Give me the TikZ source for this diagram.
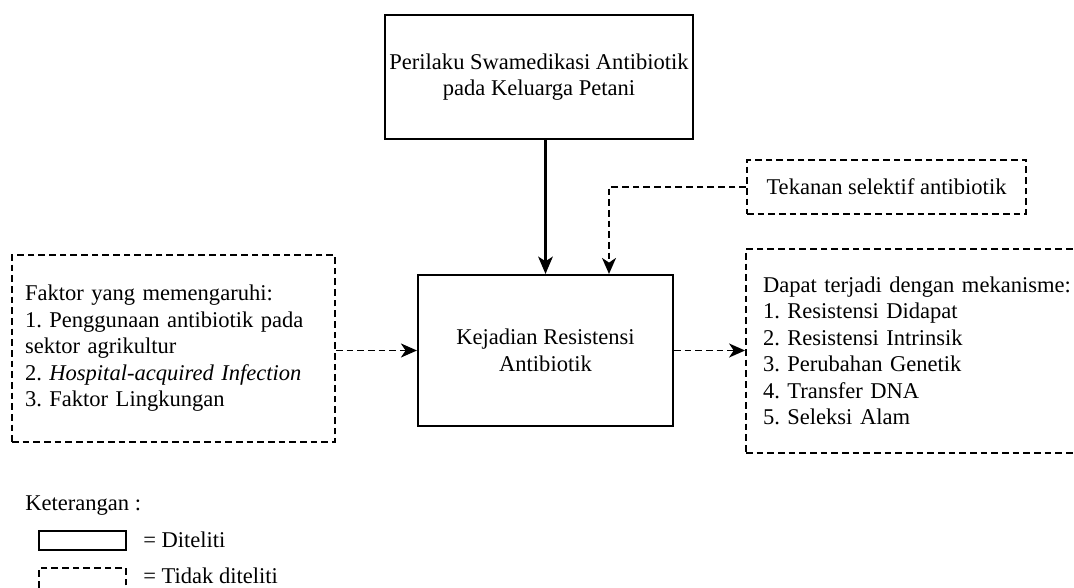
\documentclass[tikz,border=0pt]{standalone}
\usepackage{fontspec}
\setmainfont{Liberation Serif}
\usetikzlibrary{arrows.meta,calc}
\frenchspacing
\begin{document}
\begin{tikzpicture}[x=0.75pt,y=-0.75pt,
  every node/.style={font=\fontsize{16.9pt}{19.9pt}\selectfont},
  solidbox/.style={draw,line width=1.6pt,inner sep=0pt,align=center},
  dashbox/.style={draw,line width=1.4pt,dash pattern=on 5pt off 3pt,inner sep=0pt},
  solidarrow/.style={line width=1.6pt,-{Stealth[length=13pt,width=11pt,inset=3.5pt]}},
  dasharrow/.style={line width=1.4pt,dash pattern=on 5pt off 3pt,-{Stealth[length=12pt,width=10.5pt,inset=3.5pt]}},
  plain/.style={inner sep=0pt,anchor=west}]
\useasboundingbox (0,0) rectangle (1074,588);
\clip (0,0) rectangle (1074,588);
\node[solidbox,minimum width=308*0.75pt,minimum height=124*0.75pt] (top) at (539,77)
  {Perilaku Swamedikasi Antibiotik\\pada Keluarga Petani};
\node[solidbox,minimum width=255*0.75pt,minimum height=151*0.75pt] (mid) at (545.5,350.5)
  {Kejadian Resistensi\\Antibiotik};
\node[dashbox,minimum width=279*0.75pt,minimum height=54*0.75pt] (tek) at (886.5,187)
  {Tekanan selektif antibiotik};
\node[dashbox,text width=297*0.75pt,inner xsep=13*0.75pt,inner ysep=0pt,align=left,minimum height=187*0.75pt] (fak) at (173.5,348.5)
  {Faktor yang memengaruhi:\\1. Penggunaan antibiotik pada\\sektor agrikultur\\2. \textit{Hospital-acquired Infection}\\3. Faktor Lingkungan};
\node[dashbox,text width=310*0.75pt,inner xsep=17*0.75pt,inner ysep=0pt,align=left,minimum height=204*0.75pt] (mek) at (918,351)
  {Dapat terjadi dengan mekanisme:\\1. Resistensi Didapat\\2. Resistensi Intrinsik\\3. Perubahan Genetik\\4. Transfer DNA\\5. Seleksi Alam};
\draw[solidarrow] (top.south -| mid.north) -- (mid.north);
\draw[dasharrow] (tek.west) -| ([xshift=63.5*0.75pt]mid.north);
\draw[dasharrow] (fak.east |- mid.west) -- (mid.west);
\draw[dasharrow] (mid.east) -- (mid.east -| mek.west);
\node[plain] (ket) at (25,506) {Keterangan :};
\node[solidbox,minimum width=87*0.75pt,minimum height=19*0.75pt] (lgs) at (82.5,540.5) {};
\node[dashbox,minimum width=87*0.75pt,minimum height=37*0.75pt] (lgd) at (82.5,586.5) {};
\node[plain] (lgst) at (143,540) {= Diteliti};
\node[plain] (lgdt) at (143,576) {= Tidak diteliti};
\end{tikzpicture}
\end{document}
